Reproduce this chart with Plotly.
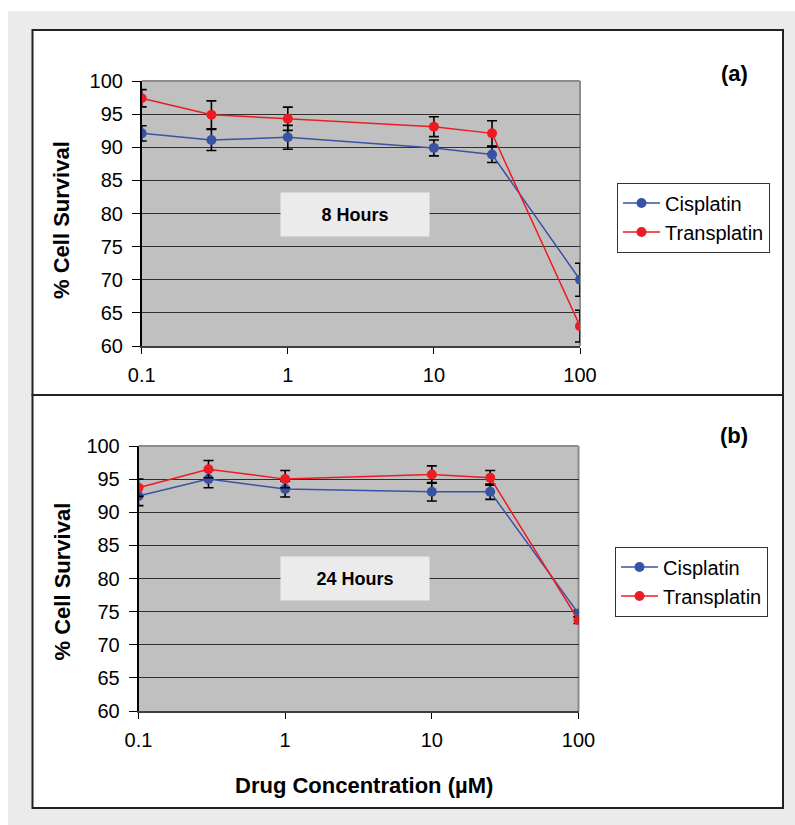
import plotly.graph_objects as go

# ---------------- data ----------------
conc = [0.1, 0.3, 1, 10, 25, 100]

cis_8h = [92.1, 91.1, 91.5, 89.9, 88.9, 70.0]
cis_8h_err = [1.15, 1.6, 1.8, 1.2, 1.2, 2.5]
trans_8h = [97.4, 94.9, 94.3, 93.1, 92.1, 63.0]
trans_8h_err = [1.3, 2.1, 1.75, 1.5, 1.9, 2.4]

cis_24h = [92.45, 95.0, 93.5, 93.1, 93.1, 74.7]
cis_24h_err = [1.45, 1.3, 1.2, 1.4, 1.15, 0.5]
trans_24h = [93.7, 96.5, 95.0, 95.7, 95.2, 73.7]
trans_24h_err = [1.3, 1.3, 1.3, 1.3, 1.1, 0.5]

x_tickvals = [0.1, 1, 10, 100]
x_ticktext = ["0.1", "1", "10", "100"]
y_tickvals = [60, 65, 70, 75, 80, 85, 90, 95, 100]

series_names = ["Cisplatin", "Transplatin"]
panel_labels = ["(a)", "(b)"]
time_labels = ["8 Hours", "24 Hours"]
y_title = "% Cell Survival"
x_title = "Drug Concentration (µM)"

# ---------------- styling ----------------
W, H = 795, 825
FONT = "Liberation Sans, Arial, sans-serif"
BLUE = "#3953a4"
RED = "#ed1c24"


def px(x):
    return x / W


def py(y):
    return 1 - y / H


fig = go.Figure()


def add_series(xa, ya, yvals, errs, name, color, legend):
    fig.add_trace(go.Scatter(
        x=conc, y=yvals, name=name, mode="lines+markers",
        xaxis=xa, yaxis=ya, legend=legend,
        line=dict(color=color, width=1.5),
        marker=dict(color=color, size=10),
        error_y=dict(type="data", array=errs, visible=True,
                     color="black", thickness=1.6, width=5),
    ))


add_series("x", "y", cis_8h, cis_8h_err, series_names[0], BLUE, "legend")
add_series("x", "y", trans_8h, trans_8h_err, series_names[1], RED, "legend")
add_series("x2", "y2", cis_24h, cis_24h_err, series_names[0], BLUE, "legend2")
add_series("x2", "y2", trans_24h, trans_24h_err, series_names[1], RED, "legend2")

tickfont = dict(family=FONT, size=20, color="black")

xcommon = dict(type="log", range=[-1, 2], tickvals=x_tickvals, ticktext=x_ticktext,
               showgrid=False, zeroline=False, showline=True, linecolor="#404040",
               linewidth=1.5, ticks="outside", ticklen=6, tickcolor="black",
               tickwidth=1, tickfont=tickfont, ticklabelstandoff=4, automargin=False)
ycommon = dict(range=[60, 100], tickvals=y_tickvals, showgrid=True,
               gridcolor="#303030", gridwidth=1, zeroline=False, showline=True,
               linecolor="black", linewidth=1.5, ticks="outside", ticklen=8,
               tickcolor="black", tickwidth=1, tickfont=tickfont,
               ticklabelstandoff=5, automargin=False)

# plot-area pixel boxes
A = dict(x0=141.7, x1=580, y0=81, y1=346)
B = dict(x0=138.5, x1=578.5, y0=446, y1=711)

fig.update_layout(
    xaxis=dict(domain=[px(A["x0"]), px(A["x1"])], anchor="y", **xcommon),
    yaxis=dict(domain=[py(A["y1"]), py(A["y0"])], anchor="x", **ycommon),
    xaxis2=dict(domain=[px(B["x0"]), px(B["x1"])], anchor="y2", **xcommon),
    yaxis2=dict(domain=[py(B["y1"]), py(B["y0"])], anchor="x2", **ycommon),
)

shapes = [
    # outer light-gray frame
    dict(type="rect", xref="paper", yref="paper", x0=px(8), x1=px(W), y0=py(H), y1=py(11),
         fillcolor="#ebebeb", line=dict(width=0), layer="below"),
    # panel boxes
    dict(type="rect", xref="paper", yref="paper", x0=px(32.5), x1=px(783), y0=py(395), y1=py(30),
         fillcolor="white", line=dict(color="#222222", width=2), layer="below"),
    dict(type="rect", xref="paper", yref="paper", x0=px(32.5), x1=px(783), y0=py(808), y1=py(395),
         fillcolor="white", line=dict(color="#222222", width=2), layer="below"),
]
for xr, yr in (("x", "y"), ("x2", "y2")):
    shapes.append(dict(type="rect", xref=f"{xr} domain", yref=f"{yr} domain",
                       x0=0, x1=1, y0=0, y1=1, fillcolor="#c0c0c0",
                       line=dict(width=0), layer="below"))
    # gray top and right border
    shapes.append(dict(type="line", xref=f"{xr} domain", yref=f"{yr} domain",
                       x0=0, x1=1, y0=1, y1=1, line=dict(color="#8c8c8c", width=2),
                       layer="above"))
    shapes.append(dict(type="line", xref=f"{xr} domain", yref=f"{yr} domain",
                       x0=1, x1=1, y0=0, y1=1, line=dict(color="#8c8c8c", width=2),
                       layer="below"))
fig.update_layout(shapes=shapes)

annotations = []
for lab, yc in zip(panel_labels, (73.5, 436)):
    annotations.append(dict(text=f"<b>{lab}</b>", x=px(734), y=py(yc), xref="paper", yref="paper",
                            showarrow=False, xanchor="center", yanchor="middle",
                            font=dict(family=FONT, size=22, color="black")))
for lab, yc in zip(time_labels, (214.2, 578.5)):
    annotations.append(dict(text=f"<b>{lab}</b>", x=px(355), y=py(yc), xref="paper", yref="paper",
                            showarrow=False, xanchor="center", yanchor="middle",
                            width=148, height=43, bgcolor="#ebebeb", borderpad=0,
                            font=dict(family=FONT, size=18, color="black")))
for yc in (220, 581.5):
    annotations.append(dict(text=f"<b>{y_title}</b>", x=px(62), y=py(yc), xref="paper", yref="paper",
                            showarrow=False, xanchor="center", yanchor="middle", textangle=-90,
                            font=dict(family=FONT, size=22, color="black")))
annotations.append(dict(text=f"<b>{x_title}</b>", x=px(364), y=py(785), xref="paper", yref="paper",
                        showarrow=False, xanchor="center", yanchor="middle",
                        font=dict(family=FONT, size=22, color="black")))

legend_common = dict(xanchor="left", yanchor="middle", bgcolor="white",
                     bordercolor="#333333", borderwidth=1,
                     font=dict(family=FONT, size=20, color="black"),
                     tracegroupgap=0, itemsizing="trace", itemwidth=37)

fig.update_layout(
    annotations=annotations,
    width=W, height=H,
    margin=dict(l=0, r=0, t=0, b=0, pad=0, autoexpand=False),
    paper_bgcolor="white",
    plot_bgcolor="rgba(0,0,0,0)",
    showlegend=True,
    legend=dict(x=px(617), y=py(217.5), **legend_common),
    legend2=dict(x=px(615), y=py(581.5), **legend_common),
    font=dict(family=FONT, color="black"),
)

page_fix = ("document.documentElement.style.margin='0';"
            "document.documentElement.style.padding='0';"
            "document.body.style.margin='0';document.body.style.padding='0';"
            "document.documentElement.style.overflow='hidden';")

fig.write_html("out.html", post_script=page_fix,
               config={"displayModeBar": False, "responsive": False})
